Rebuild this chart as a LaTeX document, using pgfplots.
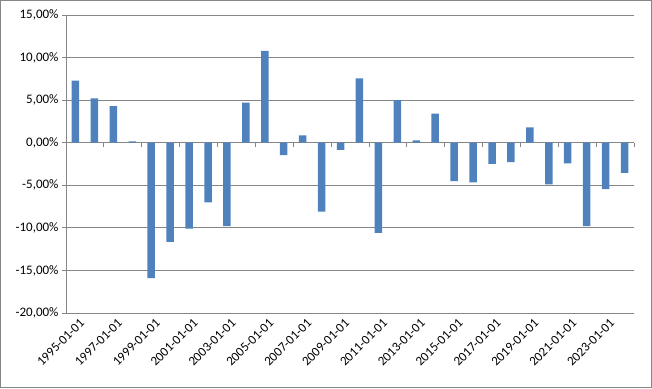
\documentclass[border=0pt]{standalone}
\usepackage{fontspec}
\setmainfont{Carlito}
\usepackage{pgfplots}
\usepackage{pgfplotstable}
\pgfplotsset{compat=1.18}
\definecolor{barblue}{HTML}{4F81BD}
\definecolor{gridgray}{HTML}{868686}
\pgfplotstableread{
idx val
0 7.3
1 5.2
2 4.3
3 0.15
4 -15.9
5 -11.65
6 -10.1
7 -7.0
8 -9.8
9 4.7
10 10.8
11 -1.45
12 0.85
13 -8.1
14 -0.85
15 7.55
16 -10.6
17 5.0
18 0.27
19 3.43
20 -4.5
21 -4.65
22 -2.5
23 -2.27
24 1.8
25 -4.9
26 -2.43
27 -9.8
28 -5.45
29 -3.55
}\datatable
\begin{document}
\begin{tikzpicture}[x=1pt,y=1pt]
\useasboundingbox (0,0) rectangle (652,388);
\draw[gridgray, line width=0.8pt] (0.6,0.6) rectangle (651.4,387.4);
\begin{axis}[
  at={(66pt,75pt)}, anchor=south west,
  scale only axis, width=568pt, height=298pt,
  xmin=-0.5, xmax=29.5, ymin=-20, ymax=15,
  ytick={-20,-15,...,15},
  xtick={0,2,...,28},
  xticklabels={1995-01-01,1997-01-01,1999-01-01,2001-01-01,2003-01-01,2005-01-01,2007-01-01,2009-01-01,2011-01-01,2013-01-01,2015-01-01,2017-01-01,2019-01-01,2021-01-01,2023-01-01},
  ybar, bar width=7.5pt,
  axis lines*=left,
  x axis line style={draw=none},
  y axis line style={gridgray, line width=0.8pt},
  ymajorgrids,
  major grid style={gridgray, line width=0.8pt},
  y tick style={gridgray, line width=0.8pt},
  x tick style={draw=none},
  tick align=outside,
  major tick length=4pt,
  /pgf/number format/assume math mode=true,
  tick label style={font=\fontsize{13}{15}\selectfont, text=black},
  yticklabel={\pgfmathprintnumber[fixed,fixed zerofill,precision=2,use comma]{\tick}\%},
  xticklabel style={rotate=45, anchor=north east, inner sep=1pt, xshift=3pt, yshift=-2pt},
  clip=false,
]
\addplot[fill=barblue, draw=none] table[x=idx, y=val] {\datatable};
\pgfplotsinvokeforeach{-0.5,1.5,...,29.5}{
  \draw[gridgray, line width=0.8pt] (axis cs:#1,0) -- ([yshift=-4pt]axis cs:#1,0);
}
\end{axis}
\end{tikzpicture}
\end{document}
